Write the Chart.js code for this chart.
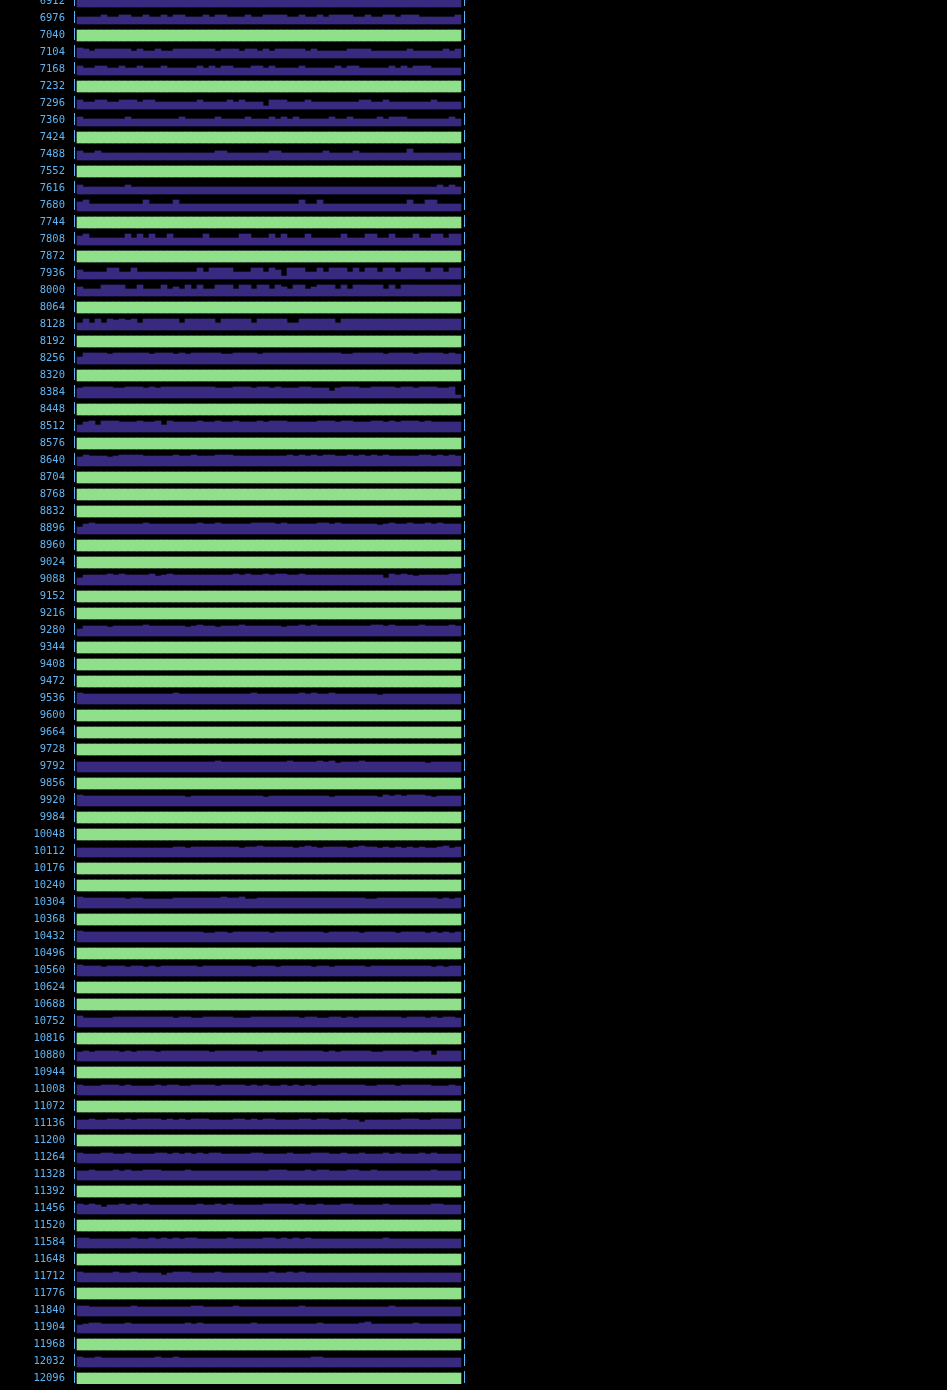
<!DOCTYPE html>
<html><head><meta charset="utf-8">
<script src="https://cdn.jsdelivr.net/npm/chart.js@4.4.1/dist/chart.umd.min.js"></script>
<style>
html,body{margin:0;padding:0;background:#000;overflow:hidden;width:947px;height:1390px;}
#wrap{position:absolute;left:0;top:-74px;width:947px;height:1498px;}
</style></head><body>
<div id="wrap"><canvas id="c"></canvas></div>
<script>
// Row start addresses (tick labels)
const rowLabels = [6912,6976,7040,7104,7168,7232,7296,7360,7424,7488,7552,7616,7680,7744,7808,7872,7936,8000,8064,8128,8192,8256,8320,8384,8448,8512,8576,8640,8704,8768,8832,8896,8960,9024,9088,9152,9216,9280,9344,9408,9472,9536,9600,9664,9728,9792,9856,9920,9984,10048,10112,10176,10240,10304,10368,10432,10496,10560,10624,10688,10752,10816,10880,10944,11008,11072,11136,11200,11264,11328,11392,11456,11520,11584,11648,11712,11776,11840,11904,11968,12032,12096];

// Fill level of each of the 64 cells in a row (11 = full)
const fullRow = [11,11,11,11,11,11,11,11,11,11,11,11,11,11,11,11,11,11,11,11,11,11,11,11,11,11,11,11,11,11,11,11,11,11,11,11,11,11,11,11,11,11,11,11,11,11,11,11,11,11,11,11,11,11,11,11,11,11,11,11,11,11,11,11];
const r6912 = [7,7,7,7,7,7,7,7,7,7,7,7,7,7,7,7,7,7,7,7,7,7,7,7,7,7,7,7,7,7,7,7,7,7,7,7,7,7,7,7,7,7,7,7,7,7,7,7,7,7,7,7,7,7,7,7,7,7,7,7,7,7,7,7];
const r6976 = [7,7,7,7,9,7,7,9, 9,7,7,9,7,7,9,7, 9,9,7,7,7,9,7,9, 9,7,7,7,9,7,7,9, 9,9,9,7,7,9,7,7, 9,7,9,9,9,9,7,7, 9,7,7,9,9,7,9,9, 9,7,7,7,7,7,7,9];
const r7104 = [10,9,7,9,9,9,9,9, 9,7,9,7,7,9,7,7, 9,9,9,9,9,9,9,7, 9,9,9,7,9,9,7,9, 7,9,9,9,9,9,7,9, 7,7,7,7,7,9,9,9, 9,7,7,7,7,7,7,9, 7,7,7,7,7,9,7,9];
const r7168 = [9,7,7,9,9,7,7,9, 7,7,9,7,7,7,9,7, 7,7,7,7,9,7,9,7, 9,9,7,7,7,9,9,7, 9,7,7,7,7,9,7,7, 7,7,7,9,7,9,9,7, 7,7,7,7,9,7,9,7, 9,9,9,7,7,7,7,7];
const r7296 = [9,7,7,9,9,7,7,9, 9,9,7,9,9,7,7,7, 7,7,7,7,9,7,7,7, 7,9,7,9,7,7,7,3, 9,9,9,7,7,7,9,7, 7,7,7,7,7,7,7,9, 9,7,7,9,7,7,7,7, 7,7,7,9,7,7,7,7];
const r7360 = [9,7,7,7,7,7,7,7, 9,7,7,7,7,7,7,7, 7,9,7,7,7,7,7,9, 7,7,7,7,9,7,7,7, 9,7,9,7,9,7,7,7, 7,7,9,7,7,9,7,7, 7,7,9,7,9,9,9,7, 7,7,7,7,7,7,9,7];
const r7488 = [9,7,7,9,7,7,7,7, 7,7,7,7,7,7,7,7, 7,7,7,7,7,7,7,9, 9,7,7,7,7,7,7,7, 9,9,7,7,7,7,7,7, 7,9,7,7,7,7,9,7, 7,7,7,7,7,7,7,11, 7,7,7,7,7,7,7,7];
const r7616 = [9,7,7,7,7,7,7,7, 9,7,7,7,7,7,7,7, 7,7,7,7,7,7,7,7, 7,7,7,7,7,7,7,7, 7,7,7,7,7,7,7,7, 7,7,7,7,7,7,7,7, 7,7,7,7,7,7,7,7, 7,7,7,7,9,7,9,7];
const r7680 = [9,11,7,7,7,7,7,7, 7,7,7,11,7,7,7,7, 11,7,7,7,7,7,7,7, 7,7,7,7,7,7,7,7, 7,7,7,7,7,11,7,7, 11,7,7,7,7,7,7,7, 7,7,7,7,7,7,7,11, 7,7,11,11,7,7,7,7];
const r7808 = [9,11,7,7,7,7,7,7, 11,7,11,7,11,7,7,11, 7,7,7,7,7,11,7,7, 7,7,7,11,11,7,7,7, 11,7,11,7,7,7,11,7, 7,7,7,7,11,7,7,7, 11,11,7,7,11,7,7,7, 11,7,7,11,11,7,11,11];
const r7936 = [9,7,7,7,7,11,11,7, 7,11,7,7,7,7,7,7, 7,7,7,7,11,7,11,11, 11,11,7,7,7,11,11,7, 11,9,3,11,11,11,7,7, 11,7,11,11,11,7,11,7, 11,11,7,11,11,7,11,11, 11,11,7,11,11,7,11,11];
const r8000 = [9,7,7,7,11,11,11,11, 7,7,11,7,7,7,11,7, 9,7,11,7,11,7,7,11, 11,11,7,11,11,7,11,11, 7,11,9,7,11,11,7,9, 11,11,11,7,11,7,11,11, 11,11,11,7,11,7,11,11, 11,11,11,11,11,11,11,11];
const r8128 = [7,11,7,11,7,11,10,11, 10,11,7,11,11,11,11,11, 11,7,11,11,11,11,11,7, 11,11,11,11,11,7,11,11, 11,11,11,7,7,11,11,11, 11,11,11,7,11,11,11,11, 11,11,11,11,11,11,11,11, 11,11,11,11,11,11,11,11];
const r8256 = [7,11,11,11,11,10,11,11, 11,11,11,11,10,11,11,11, 10,11,10,11,11,11,11,11, 10,10,11,11,11,11,10,11, 11,11,11,11,11,11,11,11, 11,11,11,11,10,10,11,11, 11,11,11,10,11,11,11,11, 10,11,11,11,11,10,11,10];
const r8384 = [10,11,11,11,11,11,10,10, 11,11,11,10,11,10,11,11, 11,11,11,11,11,11,11,10, 10,10,11,11,11,10,11,11, 10,11,10,10,10,11,11,10, 10,10,7,10,11,11,11,10, 10,11,11,11,11,10,11,11, 10,11,11,11,10,10,11,3];
const r8512 = [7,10,11,7,11,11,11,10, 10,10,11,10,10,11,7,11, 10,10,10,10,11,10,10,11, 10,10,11,10,10,10,11,10, 11,11,11,10,10,10,10,10, 11,11,11,10,11,11,10,10, 10,11,11,10,11,10,11,11, 11,10,11,10,10,10,10,10];
const r8640 = [9,11,10,10,10,9,10,11, 11,11,11,10,10,10,10,10, 11,10,10,11,10,10,10,11, 11,11,10,10,10,10,10,10, 10,10,10,11,10,11,10,11, 10,11,11,10,10,11,10,11, 10,11,10,11,10,10,10,10, 10,11,11,10,11,10,11,10];
const r8896 = [7,10,11,10,10,10,10,10, 10,10,10,11,10,10,10,10, 10,10,10,10,11,10,10,11, 10,10,10,10,10,11,11,11, 11,10,11,10,10,10,10,10, 11,11,10,11,10,10,10,10, 10,10,9,10,11,10,10,11, 10,10,11,10,11,10,10,10];
const r9088 = [7,10,10,10,10,11,10,11, 10,10,10,10,11,9,10,11, 10,10,10,10,10,10,10,10, 10,10,11,10,11,10,10,11, 10,11,11,10,10,11,10,10, 10,10,10,10,10,10,10,10, 10,10,10,7,11,10,11,10, 9,10,10,10,10,10,11,11];
const r9280 = [7,10,10,10,10,9,10,10, 10,10,10,11,10,10,10,10, 10,10,9,10,11,10,10,9, 10,10,10,11,10,10,10,10, 10,10,9,10,10,11,10,11, 10,10,10,10,10,10,10,10, 10,11,11,10,11,10,10,10, 10,11,10,10,10,10,11,10];
const r9536 = [11,10,10,10,10,10,10,10, 10,10,10,10,10,10,10,10, 11,10,10,10,10,10,10,10, 10,10,10,10,10,11,10,10, 10,10,10,10,10,11,10,11, 10,10,11,10,10,10,10,10, 10,10,9,10,10,10,10,10, 10,10,10,10,10,10,10,10];
const r9792 = [10,10,10,10,10,10,10,10, 10,10,10,10,10,10,10,10, 10,10,10,10,10,10,10,11, 10,10,10,10,10,10,10,10, 10,10,10,11,10,10,10,10, 11,10,11,9,10,10,10,11, 10,10,10,10,10,10,10,10, 10,10,9,10,10,10,10,10];
const r9920 = [11,10,10,10,10,10,10,10, 10,10,10,10,10,10,10,10, 10,10,9,10,10,10,10,10, 10,10,10,10,10,10,10,9, 10,10,10,10,10,10,10,10, 10,10,9,10,10,10,10,10, 10,10,9,11,10,11,10,11, 11,11,10,9,10,10,10,10];
const r10112 = [9,9,9,9,9,9,9,9, 9,9,9,9,9,9,9,9, 10,10,9,10,10,10,10,10, 10,10,10,9,10,10,11,10, 10,10,10,10,9,10,11,10, 9,10,10,10,10,9,10,11, 10,10,9,10,9,10,9,10, 9,10,9,9,10,11,9,10];
const r10304 = [11,10,10,10,10,10,10,10, 9,10,10,9,9,9,9,9, 10,10,10,10,10,10,10,10, 11,10,10,11,9,9,10,10, 10,10,10,10,10,10,10,10, 10,10,10,10,10,10,10,10, 9,9,10,10,10,10,10,10, 10,10,10,10,9,10,9,10];
const r10432 = [11,10,10,10,10,10,10,10, 10,10,10,10,10,10,10,10, 10,10,10,10,10,9,9,10, 10,9,10,10,10,10,10,10, 9,10,10,10,10,10,10,10, 10,9,10,10,10,10,10,9, 10,10,10,10,10,9,10,10, 10,10,9,10,9,10,9,10];
const r10560 = [11,10,10,10,9,10,10,10, 9,10,10,9,10,9,10,10, 10,10,10,10,9,10,10,10, 10,10,10,10,10,9,10,10, 10,9,10,10,10,10,10,9, 10,10,9,10,10,10,10,10, 9,10,10,10,10,10,10,10, 10,10,10,9,10,9,10,10];
const r10752 = [11,9,9,9,9,9,10,10, 10,10,10,10,10,10,10,10, 9,10,10,9,9,10,10,10, 10,10,9,9,9,10,10,10, 10,10,10,10,10,9,10,10, 9,9,10,10,9,10,9,10, 10,10,10,10,10,10,9,10, 10,10,9,10,9,10,10,9];
const r10880 = [9,10,9,10,10,10,10,9, 10,9,10,10,10,9,10,10, 10,10,10,10,10,10,9,10, 10,10,10,10,10,10,9,10, 10,10,10,10,10,10,10,10, 10,9,10,9,10,10,10,10, 10,9,9,10,10,10,10,10, 9,10,10,6,10,10,10,10];
const r11008 = [10,9,9,9,10,10,10,9, 10,9,9,9,9,10,9,10, 10,9,9,10,10,10,10,9, 10,10,10,10,9,10,9,10, 9,9,10,9,10,9,10,9, 10,10,10,10,10,10,10,10, 9,9,10,10,10,9,10,10, 10,10,10,9,9,9,10,9];
const r11136 = [9,9,10,9,9,10,10,9, 10,9,10,10,10,10,9,10, 9,10,9,10,10,10,9,9, 9,9,10,10,9,10,9,10, 10,9,9,9,9,10,10,9, 10,10,9,9,10,9,9,7, 9,9,9,9,9,9,10,10, 10,9,9,10,10,10,10,10];
const r11264 = [10,9,9,9,10,10,9,9, 10,9,9,9,9,10,10,9, 10,9,10,9,10,9,10,10, 9,9,9,9,9,10,10,9, 9,9,9,10,9,9,9,10, 10,10,9,9,10,9,9,10, 9,9,9,10,9,10,9,9, 9,10,9,10,9,9,9,9];
const r11328 = [9,9,10,9,9,9,10,9, 10,9,9,10,10,10,9,9, 9,9,10,9,9,9,9,9, 9,9,9,9,9,9,9,9, 10,10,10,9,9,9,10,9, 10,10,9,9,9,10,10,9, 9,10,9,9,9,9,9,9, 9,9,9,10,9,9,9,9];
const r11456 = [10,9,10,9,7,9,9,10, 9,10,9,10,9,9,9,9, 9,9,9,9,10,9,9,10, 9,10,9,9,9,9,9,10, 10,10,10,10,9,10,9,9, 10,9,9,9,10,10,9,9, 9,9,9,10,9,9,9,9, 9,9,9,10,10,9,9,9];
const r11584 = [10,10,9,9,9,9,9,9, 9,10,9,9,10,9,10,9, 10,9,10,10,9,9,9,9, 9,10,9,9,9,9,9,10, 10,9,10,9,10,9,10,9, 9,9,9,9,9,9,9,9, 9,9,9,10,9,9,9,9, 9,9,9,9,9,9,9,9];
const r11712 = [10,9,9,9,9,9,10,9, 9,10,9,9,9,9,7,9, 10,10,10,9,9,9,9,10, 9,9,9,9,9,9,9,9, 10,9,9,10,9,10,9,9, 9,9,9,9,9,9,9,9, 9,9,9,9,9,9,9,9, 9,9,9,9,9,9,9,9];
const r11840 = [10,10,9,9,9,9,9,9, 9,10,9,9,9,9,9,9, 9,9,9,10,10,9,9,9, 9,9,10,9,9,9,9,9, 9,9,9,9,9,10,9,9, 9,9,9,9,9,9,9,9, 9,9,9,9,10,9,9,9, 9,9,9,9,9,9,9,9];
const r11904 = [8,9,10,10,9,9,9,9, 10,9,9,9,9,9,9,9, 9,9,10,9,10,9,9,9, 9,9,9,9,9,10,9,9, 9,9,9,9,9,9,9,9, 10,9,9,9,9,9,9,10, 11,9,9,9,9,9,9,9, 10,9,9,9,9,9,9,9];
const r12032 = [10,9,9,10,9,9,9,9, 9,9,9,9,9,10,9,9, 10,9,9,9,9,9,9,9, 9,9,9,9,9,9,9,9, 9,9,9,9,9,9,9,10, 10,9,9,9,9,9,9,9, 9,9,9,9,9,9,9,9, 9,9,9,9,9,9,9,9];

const rowFill = [r6912,r6976,fullRow,r7104,r7168,fullRow,r7296,r7360,fullRow,r7488,fullRow,r7616,r7680,fullRow,r7808,fullRow,r7936,r8000,fullRow,r8128,fullRow,r8256,fullRow,r8384,fullRow,r8512,fullRow,r8640,fullRow,fullRow,fullRow,r8896,fullRow,fullRow,r9088,fullRow,fullRow,r9280,fullRow,fullRow,fullRow,r9536,fullRow,fullRow,fullRow,r9792,fullRow,r9920,fullRow,fullRow,r10112,fullRow,fullRow,r10304,fullRow,r10432,fullRow,r10560,fullRow,fullRow,r10752,fullRow,r10880,fullRow,r11008,fullRow,r11136,fullRow,r11264,r11328,fullRow,r11456,fullRow,r11584,fullRow,r11712,fullRow,r11840,r11904,fullRow,r12032,fullRow];

// ---- styling ----
const GREEN = '#8fdf8b';
const PURPLE = '#392a80';
const BLUE = '#5fb4f4';
const PX = 64 / 17;          // address units per pixel (one 64-byte row every 17px)
const ROW_BOTTOM = 7;        // bar baseline, px below the row label

const datasets = rowLabels.map((addr, r) => {
  const vals = rowFill[r];
  return {
    data: vals.map((v, i) => ({ x: i, y: [addr + ROW_BOTTOM * PX, addr + (ROW_BOTTOM - v) * PX] })),
    backgroundColor: vals === fullRow ? GREEN : PURPLE,
    borderWidth: 0,
    grouped: false,
    categoryPercentage: 1,
    barPercentage: 1
  };
});

new Chart(document.getElementById('c'), {
  type: 'bar',
  data: { datasets },
  options: {
    responsive: true,
    maintainAspectRatio: false,
    animation: false,
    events: [],
    layout: { padding: { left: 0, right: 483, top: 40, bottom: 40 } },
    plugins: { legend: { display: false }, tooltip: { enabled: false } },
    scales: {
      x: {
        type: 'linear',
        offset: false,
        min: -1,
        max: 64,
        afterBuildTicks: s => { s.ticks = [{ value: -1 }, { value: 64 }]; },
        ticks: { display: false },
        grid: { display: true, offset: false, drawOnChartArea: true, drawTicks: false, color: BLUE, lineWidth: 1 },
        border: { display: false, dash: [12, 5], dashOffset: 6 }
      },
      y: {
        type: 'linear',
        reverse: true,
        min: rowLabels[0] - 2 * 64,
        max: rowLabels[rowLabels.length - 1] + ROW_BOTTOM * PX,
        afterBuildTicks: s => { s.ticks = rowLabels.map(v => ({ value: v })); },
        afterFit: s => { s.width = 74; },
        ticks: {
          autoSkip: false,
          color: BLUE,
          padding: 9,
          labelOffset: 1,
          font: { family: "'DejaVu Sans Mono'", size: 10.5 },
          callback: v => String(v)
        },
        grid: { display: false, drawTicks: false },
        border: { display: false }
      }
    }
  }
});
</script>
</body></html>
